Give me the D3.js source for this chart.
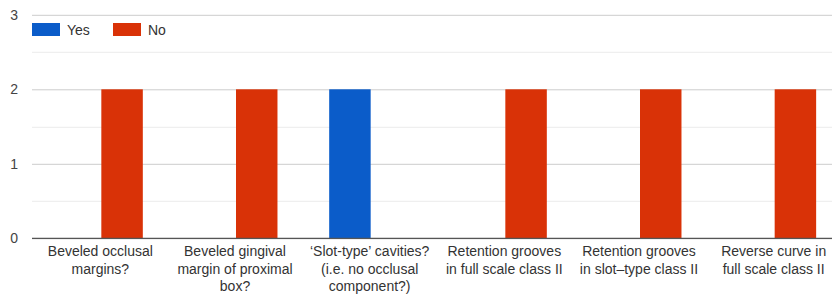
<!DOCTYPE html>
<html>
<head>
<meta charset="utf-8">
<script src="https://cdn.jsdelivr.net/npm/d3@7"></script>
<style>
  body { margin: 0; background: #fff; }
  text { font-family: "Liberation Sans", Arial, sans-serif; }
</style>
</head>
<body>
<svg id="chart" width="832" height="296"></svg>
<script>
// categories (line breaks as shown under the axis)
const categories = [
    "Beveled occlusal\nmargins?",
    "Beveled gingival\nmargin of proximal\nbox?",
    "\u2018Slot-type\u2019 cavities?\n(i.e. no occlusal\ncomponent?)",
    "Retention grooves\nin full scale class II",
    "Retention grooves\nin slot\u2013type class II",
    "Reverse curve in\nfull scale class II"
];
const seriesNames = ["Yes", "No"];
const yesValues = [0, 0, 2, 0, 0, 0];
const noValues = [2, 2, 0, 2, 2, 2];
const yTicks = [0, 1, 2, 3];
const colors = {Yes: "#0b5cc9", No: "#d93207"};

let svg = d3.select("#chart");
let margin = {left: 34, right: -10, top: 14.8, bottom: 57.7};
let width = 832 - margin.left - margin.right;
let height = 296 - margin.top - margin.bottom;

let data = categories.map(function(c, i) {
    return {cat: c, Yes: yesValues[i], No: noValues[i]};
});

let x0 = d3.scaleBand()
    .domain(categories)
    .range([0, width])
    .paddingInner(0.384)
    .paddingOuter(0.192);

let x1 = d3.scaleBand()
    .domain(seriesNames)
    .range([0, x0.bandwidth()]);

let y = d3.scaleLinear()
    .domain([0, 3])
    .range([height, 0]);

let g = svg.append("g")
    .attr("transform", "translate(" + margin.left + "," + margin.top + ")");

// minor gridlines
g.append("g")
    .selectAll("line")
    .data([0.5, 1.5, 2.5])
    .enter().append("line")
    .attr("x1", -2).attr("x2", 832)
    .attr("y1", function(d) { return Math.round(y(d)) + 0.5; })
    .attr("y2", function(d) { return Math.round(y(d)) + 0.5; })
    .attr("stroke", "#ececec");

// y axis with major gridlines
let yAxis = g.append("g")
    .call(d3.axisLeft(y).tickValues(yTicks).tickFormat(d3.format("d")).tickSize(0).tickPadding(0));
yAxis.select(".domain").remove();
yAxis.selectAll(".tick line")
    .attr("x1", -2).attr("x2", 832)
    .attr("stroke", "#cccccc");
yAxis.selectAll(".tick text")
    .attr("x", -16)
    .attr("fill", "#444")
    .style("font-size", "14px");

// bars
let groups = g.append("g")
    .selectAll("g")
    .data(data)
    .enter().append("g")
    .attr("transform", function(d) { return "translate(" + x0(d.cat) + ",0)"; });

groups.selectAll("rect")
    .data(function(d) { return seriesNames.map(function(k) { return {key: k, value: d[k]}; }); })
    .enter().append("rect")
    .filter(function(d) { return d.value > 0; })
    .attr("x", function(d) { return x1(d.key); })
    .attr("width", x1.bandwidth())
    .attr("y", function(d) { return y(d.value); })
    .attr("height", function(d) { return height - y(d.value); })
    .attr("fill", function(d) { return colors[d.key]; });

// baseline
g.append("line")
    .attr("x1", -2).attr("x2", 832)
    .attr("y1", y(0)).attr("y2", y(0))
    .attr("stroke", "#555")
    .attr("stroke-width", 1.2);

// x labels
let labels = g.append("g")
    .selectAll("text")
    .data(categories)
    .enter().append("text")
    .attr("x", function(d) { return x0(d) + x0.bandwidth() / 2 - 1; })
    .attr("y", height + 17.5)
    .attr("text-anchor", "middle")
    .attr("fill", "#333")
    .style("font-size", "14px");

labels.selectAll("tspan")
    .data(function(d) { return d.split("\n"); })
    .enter().append("tspan")
    .attr("x", function() { let p = d3.select(this.parentNode); return p.attr("x"); })
    .attr("dy", function(d, i) { return i === 0 ? 0 : 17.8; })
    .text(function(d) { return d; });

// legend
let legend = svg.append("g")
    .attr("transform", "translate(32,23)");
let items = legend.selectAll("g")
    .data(seriesNames)
    .enter().append("g")
    .attr("transform", function(d, i) { return "translate(" + (i * 81) + ",0)"; });
items.append("rect")
    .attr("width", 28).attr("height", 13)
    .attr("fill", function(d) { return colors[d]; });
items.append("text")
    .attr("x", 35).attr("y", 12)
    .attr("fill", "#333")
    .style("font-size", "14px")
    .text(function(d) { return d; });
</script>
</body>
</html>
